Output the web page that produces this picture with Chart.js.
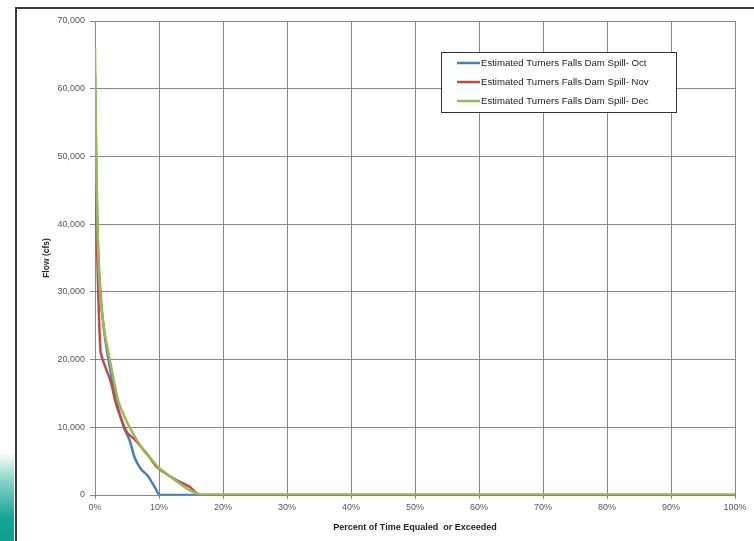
<!DOCTYPE html>
<html>
<head>
<meta charset="utf-8">
<script src="https://cdn.jsdelivr.net/npm/chart.js@4/dist/chart.umd.min.js"></script>
<style>
  html, body { margin: 0; padding: 0; background: #fff; }
  body { width: 754px; height: 541px; position: relative; overflow: hidden; }
  #frame { position: absolute; left: 15px; top: 7px; width: 760px; height: 560px;
           border-left: 2px solid #3a3a3a; border-top: 2px solid #3a3a3a; }
  #strip { position: absolute; left: 0; top: 452px; width: 14px; height: 89px;
           background: linear-gradient(to bottom, #ffffff 0%, #7fd0c6 35%, #14a596 75%, #0f9d8e 100%); }
  #flowChart { position: absolute; left: 0; top: 0; }
</style>
</head>
<body>
<div id="strip"></div>
<div id="frame"></div>
<canvas id="flowChart" width="754" height="541"></canvas>
<script>
// percent of time equaled or exceeded vs. flow (cfs)
const pctOct  = [0, 0.2, 0.5, 1.0, 1.6, 2.2, 3.3, 4.5, 5.4, 6.2, 7.2, 8.2, 8.8, 9.5, 10.1, 15, 100];
const flowOct = [62000, 48000, 36000, 28000, 23000, 19500, 14000, 10000, 8100, 5500, 3800, 2900, 2000, 900, 0, 0, 0];

const pctNov  = [0, 0.2, 0.5, 0.85, 1.2, 2.5, 3.3, 4.6, 5.1, 6.2, 7.2, 8.5, 9.6, 11.0, 12.7, 14.8, 16.4, 100];
const flowNov = [55000, 42000, 30000, 21400, 20000, 16600, 13400, 10000, 9100, 8200, 7100, 5600, 4200, 3200, 2200, 1200, 0, 0];

const pctDec  = [0, 0.15, 0.4, 0.8, 1.5, 2.3, 3.6, 4.5, 5.4, 6.3, 7.2, 8.5, 9.8, 11.2, 12.5, 13.8, 14.8, 16.8, 100];
const flowDec = [66000, 53700, 38900, 30000, 24000, 20000, 14000, 11800, 10000, 8500, 7100, 5600, 4200, 3100, 2200, 1300, 700, 0, 0];

const seriesNames = [
  'Estimated Turners Falls Dam Spill- Oct',
  'Estimated Turners Falls Dam Spill- Nov',
  'Estimated Turners Falls Dam Spill- Dec'
];
const seriesColors = ['#4a7ebb', '#be4b48', '#98b954'];

const yTicks = [0, 10000, 20000, 30000, 40000, 50000, 60000, 70000];
const xTicks = [0, 10, 20, 30, 40, 50, 60, 70, 80, 90, 100];

const toPoints = (xs, ys) => xs.map((x, i) => ({ x: x, y: ys[i] }));

const gridGray = '#868686';
const labelGray = '#555';
const FONT = "'Liberation Sans', Arial, sans-serif";

// legend drawn as a boxed inset in the upper right of the plot, like the Excel original
const insetLegend = {
  id: 'insetLegend',
  afterDraw(chart) {
    const ctx = chart.ctx;
    const x0 = 441, y0 = 52, w = 235, h = 60;
    ctx.save();
    ctx.fillStyle = '#fff';
    ctx.fillRect(x0, y0, w, h);
    ctx.strokeStyle = '#333';
    ctx.lineWidth = 1;
    ctx.strokeRect(x0 + 0.5, y0 + 0.5, w, h);
    ctx.font = '9.6px ' + FONT;
    ctx.textBaseline = 'middle';
    chart.data.datasets.forEach((ds, i) => {
      const cy = y0 + 11 + i * 19;
      ctx.strokeStyle = ds.borderColor;
      ctx.lineWidth = 2.5;
      ctx.beginPath();
      ctx.moveTo(457, cy);
      ctx.lineTo(480, cy);
      ctx.stroke();
      ctx.fillStyle = '#222';
      ctx.fillText(ds.label, 481, cy);
    });
    ctx.restore();
  }
};

new Chart(document.getElementById('flowChart').getContext('2d'), {
  type: 'line',
  data: {
    datasets: [
      { label: seriesNames[0], data: toPoints(pctOct, flowOct), borderColor: seriesColors[0], order: 3 },
      { label: seriesNames[1], data: toPoints(pctNov, flowNov), borderColor: seriesColors[1], order: 2 },
      { label: seriesNames[2], data: toPoints(pctDec, flowDec), borderColor: seriesColors[2], order: 1 }
    ].map(d => Object.assign(d, { borderWidth: 2.5, pointRadius: 0, tension: 0.25, fill: false }))
  },
  options: {
    responsive: false,
    animation: false,
    devicePixelRatio: 1,
    layout: { padding: { left: 0, top: 21, right: 19, bottom: 0 } },
    plugins: { legend: { display: false }, tooltip: { enabled: false } },
    scales: {
      x: {
        type: 'linear', min: 0, max: 100,
        afterBuildTicks: s => { s.ticks = xTicks.map(v => ({ value: v })); },
        afterFit: s => { s.height = 46; },
        grid: { color: gridGray, lineWidth: 1, tickLength: 4 },
        border: { color: gridGray },
        ticks: { autoSkip: false, padding: 3, color: labelGray, font: { family: FONT, size: 9 }, maxRotation: 0,
                 callback: v => v + '%' },
        title: { display: true, text: 'Percent of Time Equaled  or Exceeded', color: '#222',
                 font: { family: FONT, size: 9, weight: 'bold' }, padding: { top: 0, bottom: 8 } }
      },
      y: {
        min: 0, max: 70000,
        afterBuildTicks: s => { s.ticks = yTicks.map(v => ({ value: v })); },
        afterFit: s => { s.width = 95; },
        grid: { color: gridGray, lineWidth: 1, tickLength: 5 },
        border: { color: gridGray },
        ticks: { autoSkip: false, padding: 5, color: labelGray, font: { family: FONT, size: 9 },
                 callback: v => v.toLocaleString('en-US') },
        title: { display: true, text: 'Flow (cfs)', color: '#222',
                 font: { family: FONT, size: 8.5, weight: 'bold' }, padding: { top: 42, bottom: 0 } }
      }
    }
  },
  plugins: [insetLegend]
});
</script>
</body>
</html>
